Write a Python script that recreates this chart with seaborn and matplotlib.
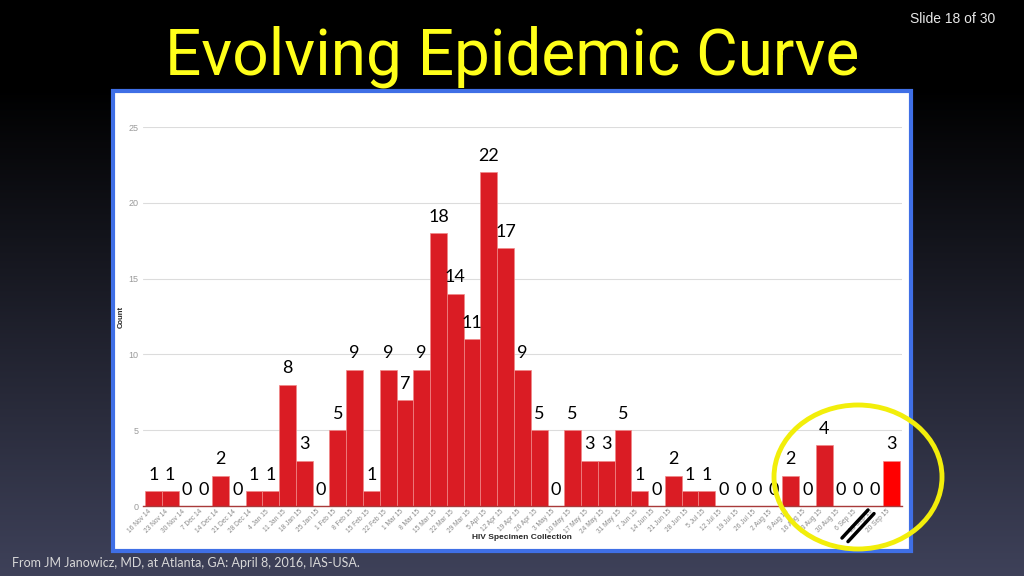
import numpy as np
import pandas as pd
import matplotlib.pyplot as plt
import seaborn as sns
import matplotlib.transforms as mtransforms
from matplotlib.colors import LinearSegmentedColormap
from matplotlib.patches import Rectangle, Ellipse
from matplotlib.lines import Line2D

# weekly HIV specimen counts
weeks = ['16 Nov 14', '23 Nov 14', '30 Nov 14', '7 Dec 14', '14 Dec 14', '21 Dec 14',
         '28 Dec 14', '4 Jan 15', '11 Jan 15', '18 Jan 15', '25 Jan 15', '1 Feb 15',
         '8 Feb 15', '15 Feb 15', '22 Feb 15', '1 Mar 15', '8 Mar 15', '15 Mar 15',
         '22 Mar 15', '29 Mar 15', '5 Apr 15', '12 Apr 15', '19 Apr 15', '26 Apr 15',
         '3 May 15', '10 May 15', '17 May 15', '24 May 15', '31 May 15', '7 Jun 15',
         '14 Jun 15', '21 Jun 15', '28 Jun 15', '5 Jul 15', '12 Jul 15', '19 Jul 15',
         '26 Jul 15', '2 Aug 15', '9 Aug 15', '16 Aug 15', '23 Aug 15', '30 Aug 15',
         '6 Sep 15', '13 Sep 15', '20 Sep 15']
counts = [1, 1, 0, 0, 2, 0, 1, 1, 8, 3, 0, 5, 9, 1, 9, 7, 9, 18, 14, 11, 22, 17, 9, 5,
          0, 5, 3, 3, 5, 1, 0, 2, 1, 1, 0, 0, 0, 0, 2, 0, 4, 0, 0, 0, 3]
y_ticks = [0, 5, 10, 15, 20, 25]

df = pd.DataFrame({'week': weeks, 'count': counts})
bar_colors = ['#da1c24'] * (len(weeks) - 1) + ['#ff0000']

sns.set_theme(style='white')
plt.rcParams['font.family'] = ['Liberation Sans', 'DejaVu Sans']

fig = plt.figure(figsize=(10.24, 5.76), dpi=100)

# slide background: black at the top fading to dark slate
bg = fig.add_axes([0, 0, 1, 1], zorder=-10)
g = np.clip((np.linspace(0, 1, 300) - 0.15) / 0.85, 0, 1).reshape(-1, 1)
cmap = LinearSegmentedColormap.from_list('slide', ['#000000', '#3e4159'])
bg.imshow(g, aspect='auto', cmap=cmap, extent=[0, 1, 0, 1], origin='upper')
bg.axis('off')

# white panel with blue frame
fig.add_artist(Rectangle((113 / 1024, 1 - 551 / 576), 798 / 1024, 460 / 576,
                         transform=fig.transFigure, facecolor='white',
                         edgecolor='#3f6fe6', linewidth=3, zorder=-5))

ax = fig.add_axes([0.1396, 0.1215, 0.741, 0.658])
ax.patch.set_alpha(0)
sns.barplot(data=df, x='week', y='count', hue='week', palette=bar_colors,
            legend=False, width=1.0, saturation=1, edgecolor='#f08888',
            linewidth=0.5, ax=ax)

for i, v in enumerate(counts):
    ax.annotate(str(v), (i, v), xytext=(0, 6), textcoords='offset points',
                ha='center', va='bottom', fontsize=13, color='black', family='Lato')

ax.set_ylim(0, 25)
ax.set_xlim(-0.62, len(weeks) - 0.38)
ax.set_yticks(y_ticks)
ax.yaxis.grid(True, color='#dcdcdc', linewidth=0.8)
ax.set_axisbelow(True)
for s in ['top', 'right', 'left']:
    ax.spines[s].set_visible(False)
ax.spines['bottom'].set_color('#a83a3a')
ax.spines['bottom'].set_linewidth(1)

ax.tick_params(axis='y', length=0, pad=3, labelsize=6.5, labelcolor='#9a9a9a')
ax.tick_params(axis='x', length=0, pad=1.5, labelsize=4.8, labelcolor='#8a8a8a')
shift = mtransforms.ScaledTranslation(-5 / 100, 0, fig.dpi_scale_trans)
for lab in ax.get_xticklabels():
    lab.set_rotation(45)
    lab.set_ha('right')
    lab.set_rotation_mode('anchor')
    lab.set_transform(lab.get_transform() + shift)
ax.set_xlabel('HIV Specimen Collection', fontsize=6, fontweight='bold', va='center')
ax.xaxis.set_label_coords(0.5, -0.082)
ax.set_ylabel('Count', fontsize=5.5, fontweight='bold', labelpad=3)

# slide texts
fig.text(512 / 1024, 1 - 75 / 576, 'Evolving Epidemic Curve', ha='center', va='baseline',
         color='#ffff1a', fontsize=46, family=['Roboto', 'DejaVu Sans'])
fig.text(995 / 1024, 1 - 19 / 576, 'Slide 18 of 30', ha='right', va='center',
         color='#e8e8e8', fontsize=10)
fig.text(12 / 1024, 1 - 563 / 576, 'From JM Janowicz, MD, at Atlanta, GA: April 8, 2016, IAS-USA.',
         ha='left', va='center', color='#d8d8d8', fontsize=9, family='Lato')

# highlight circle and axis break marks
fig.add_artist(Ellipse((858 / 1024, 1 - 477 / 576), 168 / 1024, 144 / 576,
                       transform=fig.transFigure, fill=False, edgecolor='#f2ee0a',
                       linewidth=3.5, zorder=10))
for dx in [0, 6]:
    fig.add_artist(Line2D([(842 + dx) / 1024, (868 + dx) / 1024],
                          [1 - (538 + dx * 0.6) / 576, 1 - (510 + dx * 0.6) / 576],
                          transform=fig.transFigure, color='black', linewidth=2.5, zorder=11))

fig.savefig('out.png', dpi=100)
